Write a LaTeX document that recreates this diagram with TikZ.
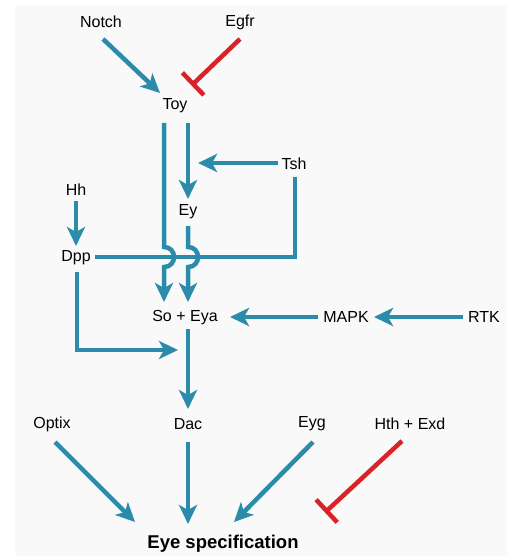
\documentclass[tikz,border=0pt]{standalone}
\usepackage{fontspec}
\setmainfont{Liberation Sans}
\usetikzlibrary{arrows.meta}
\definecolor{actblue}{HTML}{2A8BAA}
\definecolor{inhred}{HTML}{D8232A}
\definecolor{panel}{HTML}{F9F9F9}
\tikzset{
  lbl/.style={inner sep=0pt, font=\fontsize{16}{18}\selectfont},
  act/.style={draw=actblue, line width=4.5pt, -{Stealth[length=19pt,width=18pt,inset=5pt]}},
  flow/.style={draw=actblue, line width=4.5pt},
  inh/.style={draw=inhred, line width=4.5pt, -{Bar[width=31pt]}},
}
\begin{document}
\begin{tikzpicture}[x=1pt,y=-1pt]
\useasboundingbox (0,0) rectangle (507,556);
\fill[panel] (15,5) rectangle (507,556);

% nodes
\node[lbl] (notch) at (101,22) {Notch};
\node[lbl] (egfr)  at (240,22) {Egfr};
\node[lbl] (toy)   at (175,106) {Toy};
\node[lbl] (tsh)   at (294,164) {Tsh};
\node[lbl] (hh)    at (76,190) {Hh};
\node[lbl] (ey)    at (188,212) {Ey};
\node[lbl] (dpp)   at (76,258) {Dpp};
\node[lbl] (soeya) at (185,318) {So + Eya};
\node[lbl] (mapk)  at (346,317) {MAPK};
\node[lbl] (rtk)   at (484,317) {RTK};
\node[lbl] (optix) at (52,424) {Optix};
\node[lbl] (dac)   at (188,424) {Dac};
\node[lbl] (eyg)   at (312,424) {Eyg};
\node[lbl] (hth)   at (410,424) {Hth + Exd};
\node[lbl, font=\fontsize{18.5}{20}\selectfont\bfseries] (eye) at (223,544) {Eye specification};

% connector end points
\coordinate (notchS) at (103,39);
\coordinate (toyNW)  at (160,93);
\coordinate (egfrS)  at (240,39);
\coordinate (toyNE)  at (191.5,85.5);
\coordinate (toySL)  at (164,123);
\coordinate (toySR)  at (188,123);
\coordinate (eyN)    at (188,199);
\coordinate (eyS)    at (188,226);
\coordinate (soNL)   at (164,302);
\coordinate (soNR)   at (188,302);
\coordinate (tshW)   at (278,163);
\coordinate (tshTip) at (198,163);
\coordinate (tshS)   at (295,177);
\coordinate (cross)  at (295,257);
\coordinate (dppE)   at (95,257);
\coordinate (hhS)    at (76,201);
\coordinate (dppN)   at (76,246);
\coordinate (dppS)   at (77,272);
\coordinate (dppCorner) at (77,350);
\coordinate (soTip)  at (178,350);
\coordinate (soS)    at (188,329);
\coordinate (dacN)   at (188,409);
\coordinate (mapkW)  at (318,317);
\coordinate (soE)    at (230,317);
\coordinate (rtkW)   at (463,317);
\coordinate (mapkE)  at (374,317);
\coordinate (optixS) at (55,442);
\coordinate (eyeNW)  at (135,522);
\coordinate (dacS)   at (188,442);
\coordinate (eyeN)   at (188,524);
\coordinate (eygS)   at (313,442);
\coordinate (eyeNE)  at (234,522);
\coordinate (hthS)   at (402,441);
\coordinate (eyeE)   at (325,512.5);

% Tsh / Dpp line (drawn first, verticals hop over it)
\draw[flow] (tshS) -- (cross) -- (dppE);

% connectors
\draw[act] (notchS) -- (toyNW);
\draw[inh] (egfrS) -- (toyNE);
\draw[act] (toySL) -- (164,247) .. controls (177.3,247) and (177.3,267) .. (164,267) -- (soNL);
\draw[act] (toySR) -- (eyN);
\draw[act] (eyS) -- (188,247) .. controls (201.3,247) and (201.3,267) .. (188,267) -- (soNR);
\draw[act] (tshW) -- (tshTip);
\draw[act] (hhS) -- (dppN);
\draw[act] (dppS) -- (dppCorner) -- (soTip);
\draw[act] (soS) -- (dacN);
\draw[act] (mapkW) -- (soE);
\draw[act] (rtkW) -- (mapkE);
\draw[act] (optixS) -- (eyeNW);
\draw[act] (dacS) -- (eyeN);
\draw[act] (eygS) -- (eyeNE);
\draw[inh] (hthS) -- (eyeE);
\end{tikzpicture}
\end{document}
